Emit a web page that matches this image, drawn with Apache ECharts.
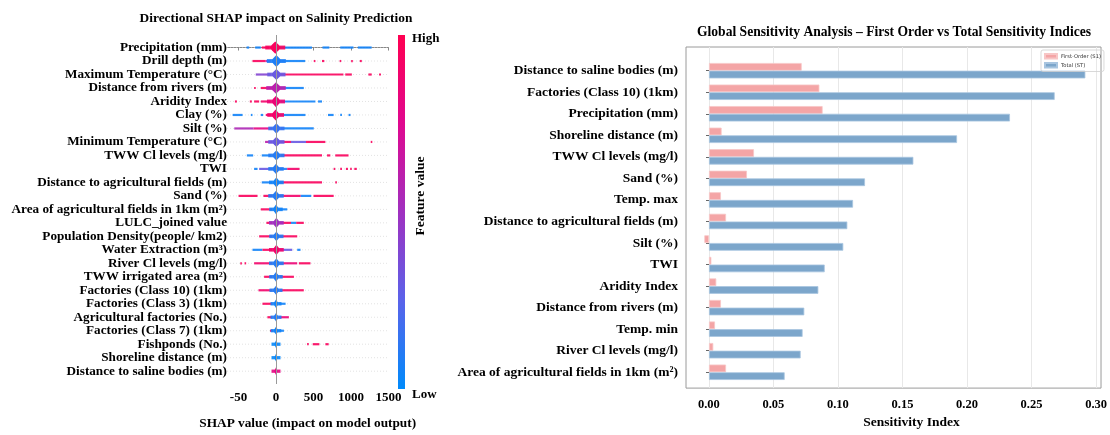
<!DOCTYPE html>
<html><head><meta charset="utf-8">
<script src="https://cdn.jsdelivr.net/npm/echarts@6/dist/echarts.min.js"></script>
<style>html,body{margin:0;padding:0;background:#fff}#c{width:1110px;height:435px}</style>
</head><body><div id="c"></div><script>
// ---------------- DATA ----------------
const shapTitle = 'Directional SHAP impact on Salinity Prediction';
const shapFeatures = [
  'Precipitation (mm)', 'Drill depth (m)', 'Maximum Temperature (°C)', 'Distance from rivers (m)',
  'Aridity Index', 'Clay (%)', 'Silt (%)', 'Minimum Temperature (°C)', 'TWW Cl levels (mg/l)', 'TWI',
  'Distance to agricultural fields (m)', 'Sand (%)', 'Area of agricultural fields in 1km (m²)',
  'LULC_joined value', 'Population Density(people/ km2)', 'Water Extraction (m³)', 'River Cl levels (mg/l)',
  'TWW irrigated area (m²)', 'Factories (Class 10) (1km)', 'Factories (Class 3) (1km)',
  'Agricultural factories (No.)', 'Factories (Class 7) (1km)', 'Fishponds (No.)',
  'Shoreline distance (m)', 'Distance to saline bodies (m)'
];
// dense centre of each swarm: [shapStart, shapEnd, relative density, feature value 0..1]
const shapCores = [
  [-80, 60, 0.95, 0.95], [-60, 70, 0.92, 0.08], [-60, 70, 0.85, 0.3], [-70, 70, 0.9, 0.6],
  [-60, 60, 0.9, 0.85], [-60, 50, 0.85, 0.9], [-50, 60, 0.8, 0.15], [-50, 60, 0.8, 0.3],
  [-50, 60, 0.8, 0.1], [-50, 50, 0.8, 0.1], [-40, 50, 0.8, 0.05], [-50, 50, 0.8, 0.1],
  [-40, 40, 0.75, 0.05], [-40, 50, 0.8, 0.5], [-40, 50, 0.75, 0.1], [-40, 50, 0.8, 0.9],
  [-40, 50, 0.8, 0.1], [-40, 40, 0.75, 0.1], [-40, 40, 0.7, 0.1], [-30, 30, 0.65, 0.05],
  [-30, 30, 0.65, 0.1], [-30, 30, 0.6, 0.05], [-20, 20, 0.6, 0.02], [-20, 20, 0.6, 0.02],
  [-20, 20, 0.6, 0.8]
];
// streaks of points: [row, shapStart, shapEnd, feature value 0..1]
const shapStreaks = [
  [0,-393,-358,0.05],[0,-278,-203,0.05],[0,-190,-90,0.95],[0,40,480,0.05],[0,620,712,0.05],[0,857,1034,0.05],[0,1092,1277,0.05],
  [1,-314,-137,0.95],[1,-137,-70,0.45],[1,70,390,0.05],[1,504,526,0.95],[1,614,645,0.95],[1,849,870,0.95],[1,1003,1025,0.95],[1,1118,1145,0.95],
  [2,-270,-70,0.4],[2,65,900,0.95],[2,924,1012,0.95],[2,1233,1277,0.95],[2,1375,1401,0.95],
  [3,-292,-270,0.95],[3,-203,-60,0.95],[3,60,371,0.05],
  [4,-548,-522,0.95],[4,-349,-323,0.95],[4,-292,-225,0.95],[4,-203,-70,0.9],[4,60,526,0.05],[4,561,614,0.05],
  [5,-579,-446,0.05],[5,-336,-314,0.05],[5,-203,-172,0.05],[5,-137,-60,0.9],[5,50,393,0.05],[5,694,769,0.05],[5,857,880,0.05],[5,968,994,0.05],
  [6,-557,-300,0.55],[6,-300,-50,0.8],[6,60,504,0.05],
  [7,-146,-50,0.6],[7,55,200,0.9],[7,200,400,0.3],[7,400,659,0.95],[7,1264,1282,0.95],
  [8,-389,-305,0.05],[8,-190,-60,0.05],[8,60,614,0.95],[8,681,725,0.95],[8,791,968,0.95],
  [9,-292,-247,0.05],[9,-225,-50,0.3],[9,50,150,0.1],[9,150,314,0.9],[9,769,791,0.95],[9,857,880,0.95],[9,933,960,0.95],[9,990,1010,0.95],[9,1045,1078,0.95],
  [10,-190,-50,0.05],[10,50,614,0.95],[10,791,813,0.95],
  [11,-500,-247,0.95],[11,-168,-50,0.95],[11,50,330,0.9],[11,330,470,0.05],[11,500,770,0.95],
  [12,-203,-50,0.95],[12,40,150,0.05],
  [13,-128,-50,0.95],[13,50,200,0.95],[13,200,270,0.05],[13,270,371,0.95],
  [14,-225,-50,0.95],[14,50,283,0.95],
  [15,-314,-181,0.05],[15,-181,-50,0.95],[15,50,217,0.3],[15,283,327,0.05],
  [16,-477,-455,0.95],[16,-420,-400,0.95],[16,-292,-50,0.9],[16,50,283,0.85],[16,305,460,0.95],
  [17,-159,-50,0.95],[17,50,239,0.95],
  [18,-234,-50,0.9],[18,50,371,0.95],
  [19,-181,-50,0.95],[19,40,128,0.05],
  [20,-115,-50,0.95],[20,40,172,0.85],
  [21,-80,-40,0.95],[21,30,106,0.05],
  [22,415,437,0.95],[22,490,579,0.95],[22,659,703,0.95]
];
const shapTickValues = [-500, 0, 500, 1000, 1500];
const shapTickLabels = ['-50', '0', '500', '1000', '1500'];
const shapXName = 'SHAP value (impact on model output)';

const saTitle = 'Global Sensitivity Analysis \u2013 First Order vs Total Sensitivity Indices';
const saFeatures = [
  'Distance to saline bodies (m)', 'Factories (Class 10) (1km)', 'Precipitation (mm)', 'Shoreline distance (m)',
  'TWW Cl levels (mg/l)', 'Sand (%)', 'Temp. max', 'Distance to agricultural fields (m)', 'Silt (%)', 'TWI',
  'Aridity Index', 'Distance from rivers (m)', 'Temp. min', 'River Cl levels (mg/l)',
  'Area of agricultural fields in 1km (m²)'
];
const saFirstOrder = [0.0713, 0.0849, 0.0874, 0.0097, 0.0346, 0.0292, 0.0092, 0.0131, -0.0036, 0.0018, 0.0056, 0.0092, 0.0046, 0.0033, 0.0131];
const saTotal = [0.2895, 0.2659, 0.2315, 0.1908, 0.1572, 0.1200, 0.1108, 0.1064, 0.1033, 0.0890, 0.0841, 0.0733, 0.0720, 0.0705, 0.0582];
const saTickValues = [0, 0.05, 0.10, 0.15, 0.20, 0.25, 0.30];
const saXName = 'Sensitivity Index';
const saLegend = ['First-Order (S1)', 'Total (ST)'];

// ---------------- STYLE / LAYOUT ----------------
const SERIF = '"Liberation Serif", "Times New Roman", serif';
const CMAP = ['#008bfb', '#5a63ea', '#a030c0', '#e0088f', '#ff0051'];
const cmap = v => echarts.color.lerp(Math.max(0, Math.min(1, v)), CMAP);
const lbl = size => ({fontFamily: SERIF, fontWeight: 'bold', fontSize: size, color: '#000'});

const shapGrid = {left: 227, top: 35, width: 161.4, height: 354};
const saFrame = {left: 686, top: 47, width: 418, height: 347};
const saRow = 21.54;
const saBars = {left: 686, top: 70.7 - saRow / 2, width: 418, height: saRow * saFeatures.length};
const saMin = -23 / 1300, saMax = 395 / 1300;

const chart = echarts.init(document.getElementById('c'), null, {renderer: 'canvas'});

const rowIdx = shapFeatures.map((_, i) => i);
const coreData = shapCores.map((c, i) => [i, c[0], c[1], c[2], c[3]]);

const option = {
  animation: false,
  backgroundColor: '#fff',
  grid: [
    Object.assign({}, shapGrid),
    Object.assign({show: true, borderColor: '#9a9a9a', borderWidth: 1}, saFrame),
    Object.assign({}, saBars)
  ],
  xAxis: [
    {gridIndex: 0, type: 'value', min: -654, max: 1500,
     axisLine: {show: true, lineStyle: {color: '#888', width: 1}},
     axisTick: {show: true, customValues: shapTickValues, length: 3, lineStyle: {color: '#888'}},
     axisLabel: Object.assign({customValues: shapTickValues, margin: 7,
       formatter: v => shapTickLabels[shapTickValues.indexOf(v)]}, lbl(13)),
     splitLine: {show: false},
     name: shapXName, nameLocation: 'middle', nameGap: 33,
     nameTextStyle: lbl(13.3)},
    {gridIndex: 1, type: 'value', min: saMin, max: saMax,
     axisLine: {show: false}, axisTick: {show: false, customValues: saTickValues},
     axisLabel: Object.assign({customValues: saTickValues, margin: 10, formatter: v => v.toFixed(2)}, lbl(12.5)),
     splitLine: {show: true, lineStyle: {color: '#e8e8e8', width: 1}},
     name: saXName, nameLocation: 'middle', nameGap: 26,
     nameTextStyle: Object.assign(lbl(13.5), {padding: [0, 0, 0, 36]})},
    {gridIndex: 2, type: 'value', min: saMin, max: saMax, show: false}
  ],
  yAxis: [
    {gridIndex: 0, type: 'value', inverse: true, min: -0.93, max: 24.95,
     axisLine: {show: false}, axisTick: {show: false}, splitLine: {show: false},
     axisLabel: Object.assign({customValues: rowIdx, margin: 0, formatter: v => shapFeatures[v]}, lbl(13.2))},
    {gridIndex: 1, type: 'value', min: 0, max: 1, show: false},
    {gridIndex: 2, type: 'category', inverse: true, data: saFeatures,
     axisLine: {show: false},
     axisTick: {show: true, alignWithLabel: true, length: 3, lineStyle: {color: '#666'}},
     axisLabel: Object.assign({margin: 8}, lbl(13.5))}
  ],
  legend: {
    data: saLegend, orient: 'vertical', left: 1041, top: 50,
    itemWidth: 12, itemHeight: 4.5, itemGap: 2.5, icon: 'rect',
    padding: [3, 3, 3, 3], borderColor: '#cfcfcf', borderWidth: 0.8, borderRadius: 2,
    textStyle: {fontFamily: '"DejaVu Sans", sans-serif', fontSize: 5.2, color: '#333', padding: [0, 0, 0, -1]}
  },
  series: [
    { // row guides + zero line
      type: 'custom', xAxisIndex: 0, yAxisIndex: 0, silent: true, z: 1,
      data: rowIdx.map(i => [0, i]),
      renderItem: (params, api) => {
        const cs = params.coordSys;
        const p = api.coord([0, api.value(1)]);
        return {type: 'line', shape: {x1: cs.x, y1: p[1], x2: cs.x + cs.width, y2: p[1]},
                style: {stroke: '#cccccc', lineWidth: 0.8, lineDash: [1, 2], opacity: 0.7}};
      },
      markLine: {silent: true, symbol: 'none', label: {show: false},
                 lineStyle: {color: '#999', width: 1, type: 'solid'}, data: [{xAxis: 0}]}
    },
    { // streaks
      type: 'custom', xAxisIndex: 0, yAxisIndex: 0, silent: true, z: 3,
      data: shapStreaks,
      encode: {x: [1, 2], y: 0},
      renderItem: (params, api) => {
        const r = api.value(0);
        const p0 = api.coord([api.value(1), r]);
        const p1 = api.coord([api.value(2), r]);
        return {type: 'rect', shape: {x: p0[0], y: p0[1] - 1.1, width: Math.max(p1[0] - p0[0], 1.6), height: 2.2},
                style: {fill: cmap(api.value(3)), opacity: 0.9}};
      }
    },
    { // dense cores
      type: 'custom', xAxisIndex: 0, yAxisIndex: 0, silent: true, z: 4,
      data: coreData,
      encode: {x: [1, 2], y: 0},
      renderItem: (params, api) => {
        const r = api.value(0);
        const p0 = api.coord([api.value(1), r]);
        const p1 = api.coord([api.value(2), r]);
        const rowPx = api.size([0, 1])[1];
        const d = api.value(3);
        const h = d * 0.48 * rowPx;
        const xm = (p0[0] + p1[0]) / 2, y = p0[1], w = p1[0] - p0[0];
        const col = cmap(api.value(4));
        const t = 1.1 + d * 0.9;
        return {type: 'group', children: [
          {type: 'rect', shape: {x: p0[0] - 5 * d, y: y - t, width: w + 10 * d, height: 2 * t}, style: {fill: col, opacity: 0.9}},
          {type: 'polygon', shape: {points: [
            [p0[0], y], [xm - w * 0.32, y - h * 0.45], [xm, y - h], [xm + w * 0.32, y - h * 0.45], [p1[0], y],
            [xm + w * 0.32, y + h * 0.45], [xm, y + h], [xm - w * 0.32, y + h * 0.45]]},
           style: {fill: col}}
        ]};
      }
    },
    {
      type: 'bar', name: saLegend[0], xAxisIndex: 2, yAxisIndex: 2, data: saFirstOrder,
      barWidth: 7.7, barGap: '0%',
      itemStyle: {color: '#f4a5a6', borderColor: '#f8c6c6', borderWidth: 0.8}
    },
    {
      type: 'bar', name: saLegend[1], xAxisIndex: 2, yAxisIndex: 2, data: saTotal,
      barWidth: 7.7, barGap: '0%',
      itemStyle: {color: '#7ca6cb', borderColor: '#a8c5e0', borderWidth: 0.8}
    }
  ],
  graphic: [
    {type: 'text', x: 276, y: 19, silent: true,
     style: {text: shapTitle, align: 'center', verticalAlign: 'middle', textAlign: 'center', textVerticalAlign: 'middle',
             font: 'bold 13.4px ' + SERIF, fill: '#000'}},
    {type: 'text', x: 894, y: 32, silent: true,
     style: {text: saTitle, align: 'center', verticalAlign: 'middle', textAlign: 'center', textVerticalAlign: 'middle',
             font: 'bold 13.6px ' + SERIF, fill: '#000'}},
    {type: 'rect', silent: true, shape: {x: 398, y: 35, width: 7, height: 354},
     style: {fill: new echarts.graphic.LinearGradient(0, 1, 0, 0,
       CMAP.map((c, i) => ({offset: i / (CMAP.length - 1), color: c})))}},
    {type: 'text', x: 412, y: 39, silent: true,
     style: {text: 'High', align: 'left', verticalAlign: 'middle', textAlign: 'left', textVerticalAlign: 'middle',
             font: 'bold 13px ' + SERIF, fill: '#000'}},
    {type: 'text', x: 412, y: 395, silent: true,
     style: {text: 'Low', align: 'left', verticalAlign: 'middle', textAlign: 'left', textVerticalAlign: 'middle',
             font: 'bold 13px ' + SERIF, fill: '#000'}},
    {type: 'text', x: 421, y: 196, rotation: Math.PI / 2, silent: true,
     style: {text: 'Feature value', align: 'center', verticalAlign: 'middle', textAlign: 'center', textVerticalAlign: 'middle',
             font: 'bold 13.5px ' + SERIF, fill: '#000'}}
  ]
};
chart.setOption(option);
</script></body></html>
